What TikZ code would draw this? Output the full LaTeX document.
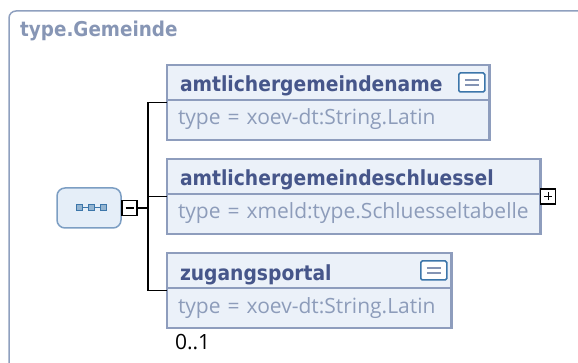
\documentclass[tikz,border=0pt]{standalone}
\usepackage{fontspec}
\setmainfont{Open Sans}
\newfontfamily\headfont{DejaVu Sans Condensed}
\usetikzlibrary{positioning,fit}
\definecolor{FrameLine}{HTML}{8FA0BF}
\definecolor{TitleText}{HTML}{8796B5}
\definecolor{ElemBorder}{HTML}{8E9DBD}
\definecolor{ElemFill}{HTML}{EBF1F9}
\definecolor{HeadText}{HTML}{46568A}
\definecolor{BodyText}{HTML}{8D9CBA}
\definecolor{SeqFill}{HTML}{E5EEF8}
\definecolor{SeqBorder}{HTML}{7C9EC3}
\definecolor{IconBlue}{HTML}{3C76AA}
\definecolor{IconLine}{HTML}{8494B4}

\begin{document}
\begin{tikzpicture}[x=1pt,y=-1pt,
  frame/.style={draw=FrameLine,line width=1.5pt,rounded corners=7pt},
  title/.style={font=\headfont\bfseries\fontsize{20.4}{22}\selectfont,text=TitleText,inner sep=0pt},
  elemhead/.style={rectangle,draw=ElemBorder,fill=ElemFill,line width=2.5pt,outer sep=0pt,inner xsep=13pt,minimum height=35pt,text height=19pt,text depth=0pt,align=left,font=\headfont\bfseries\fontsize{20.8}{22}\selectfont,text=HeadText},
  elembody/.style={rectangle,draw=ElemBorder,fill=ElemFill,line width=2.5pt,outer sep=0pt,inner xsep=11pt,minimum height=40pt,text height=15pt,text depth=5pt,align=left,font=\fontsize{21}{24}\selectfont,text=BodyText},
  docicon/.style={rectangle,draw=IconBlue,fill=white,line width=1.5pt,rounded corners=1.5pt,minimum width=26pt,minimum height=19pt,inner sep=0pt},
  iconline/.style={draw=IconLine,line width=1.5pt},
  togglebox/.style={rectangle,draw=black,fill=white,line width=1.3pt,minimum size=15pt,inner sep=0pt,outer sep=0pt},
  togglemark/.style={draw=black,line width=1.3pt},
  seqbox/.style={rectangle,rounded corners=8pt,draw=SeqBorder,fill=SeqFill,line width=1.5pt,minimum width=64pt,minimum height=40pt,outer sep=0pt},
  seqdot/.style={rectangle,draw=IconBlue,fill=IconBlue!55!white,line width=1pt,minimum size=6pt,inner sep=0pt},
  conn/.style={draw=black,line width=1.3pt},
  card/.style={font=\fontsize{21}{24}\selectfont,text=black,inner sep=0pt}
]
\useasboundingbox (0,0) rectangle (578,363);
\clip (0,0) rectangle (578,363);
% outer type frame
\draw[frame] (9,400) -- (9,11) -- (620,11);
\node[title,anchor=base west] (typename) at (20,37) {type.Gemeinde};

% child elements
\node[elemhead,text width=296.5pt,anchor=north west] (namehead) at (167,65) {amtlichergemeindename};
\node[elembody,text width=300.5pt,below=0pt of namehead.south west,anchor=north west] (namebody) {type = xoev-dt:String.Latin};
\node[fit=(namehead)(namebody),inner sep=0pt] (name) {};
\node[docicon,left=4pt of namehead.east] (nameicon) {};

\node[elemhead,text width=347.5pt,below=19pt of namebody.south west,anchor=north west] (keyhead) {amtlichergemeindeschluessel};
\node[elembody,text width=351.5pt,below=0pt of keyhead.south west,anchor=north west] (keybody) {type = xmeld:type.Schluesseltabelle};
\node[fit=(keyhead)(keybody),inner sep=0pt] (key) {};
\node[togglebox,right=0pt of key.east] (keytoggle) {};

\node[elemhead,text width=258.5pt,below=19pt of keybody.south west,anchor=north west] (portalhead) {zugangsportal};
\node[elembody,text width=262.5pt,below=0pt of portalhead.south west,anchor=north west] (portalbody) {type = xoev-dt:String.Latin};
\node[fit=(portalhead)(portalbody),inner sep=0pt] (portal) {};
\node[docicon,left=4pt of portalhead.east] (portalicon) {};
\node[card,below right=6pt and 8pt of portal.south west] (portalcard) {0..1};

% sequence compositor
\node[seqbox] (seq) at (89,208) {};
\node[togglebox,right=1pt of seq] (seqtoggle) {};
\coordinate[right=11pt of seqtoggle] (hub);

% icon marks
\foreach \icon in {nameicon,portalicon} {
  \draw[iconline] ([xshift=-7pt,yshift=2.5pt]\icon.center) -- ([xshift=7pt,yshift=2.5pt]\icon.center);
  \draw[iconline] ([xshift=-7pt,yshift=-2.5pt]\icon.center) -- ([xshift=7pt,yshift=-2.5pt]\icon.center);
}
\draw[togglemark] ([xshift=-4pt]keytoggle.center) -- ([xshift=4pt]keytoggle.center);
\draw[togglemark] ([yshift=-4pt]keytoggle.center) -- ([yshift=4pt]keytoggle.center);
\draw[togglemark] ([xshift=-4pt]seqtoggle.center) -- ([xshift=4pt]seqtoggle.center);
\draw[draw=IconBlue,line width=1pt] ([xshift=-10pt]seq.center) -- ([xshift=14pt]seq.center);
\foreach \dx in {-10,2,14}
  \node[seqdot] at ([xshift=\dx pt]seq.center) {};

% connectors
\draw[conn] (seqtoggle.east) -- (hub);
\draw[conn] (name.west) -| (hub) |- (portal.west);
\draw[conn] (hub |- key.west) -- (key.west);
\end{tikzpicture}
\end{document}
